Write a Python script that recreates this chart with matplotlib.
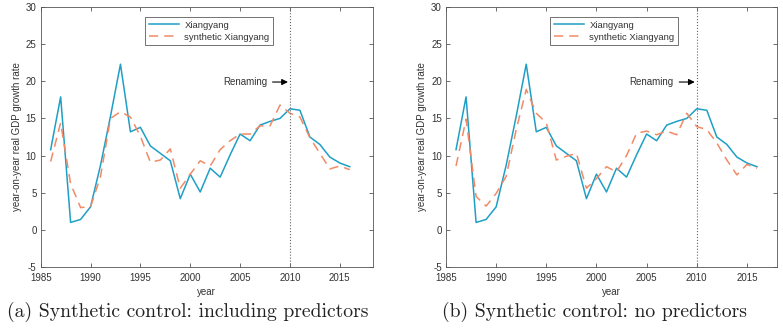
import numpy as np
import matplotlib
matplotlib.use("Agg")
import matplotlib.pyplot as plt

plt.rcParams['font.family'] = ['Liberation Sans', 'DejaVu Sans']
plt.rcParams['axes.unicode_minus'] = False

years = list(range(1986, 2017))

# actual Xiangyang growth rate (same in both panels)
xiangyang = [10.8, 17.9, 1.0, 1.4, 3.1, 8.7, 15.3, 22.3, 13.2, 13.8,
             11.3, 10.3, 9.3, 4.2, 7.5, 5.1, 8.3, 7.1, 10.1, 12.9,
             12.0, 14.1, 14.6, 15.0, 16.3, 16.1, 12.5, 11.5, 9.8, 9.0, 8.5]

# synthetic control, including predictors
synth_pred = [9.2, 14.4, 6.2, 3.0, 3.1, 7.2, 15.0, 15.9, 15.2, 12.6,
              9.1, 9.4, 10.9, 5.6, 7.5, 9.3, 8.6, 10.8, 12.0, 12.9,
              12.9, 14.0, 14.0, 16.8, 15.7, 15.2, 12.4, 10.3, 8.2, 8.6, 8.1]

# synthetic control, no predictors
synth_nopred = [8.6, 14.9, 4.5, 3.2, 4.9, 7.2, 13.5, 18.9, 15.7, 14.4,
                9.4, 9.9, 10.3, 5.6, 6.9, 8.5, 7.8, 10.0, 13.0, 13.3,
                12.8, 13.3, 12.8, 15.7, 13.9, 13.5, 11.7, 9.4, 7.4, 8.8, 8.3]

captions = ['(a) Synthetic control: including predictors',
            '(b) Synthetic control: no predictors']
xticks = [1985, 1990, 1995, 2000, 2005, 2010, 2015]
yticks = [-5, 0, 5, 10, 15, 20, 25, 30]

blue = '#1f9fc6'
orange = '#f28a66'
axcol = '#555555'

fig = plt.figure(figsize=(7.83, 3.28), dpi=100)

panels = [
    (synth_pred, [40.7 / 783, 61 / 328, 332 / 783, 260 / 328], 2018.3, 187.5 / 783),
    (synth_nopred, [446 / 783, 61 / 328, 331 / 783, 260 / 328], 2018.0, 594.5 / 783),
]

for (synth, rect, xmax, capx), cap in zip(panels, captions):
    ax = fig.add_axes(rect)
    ax.plot(years, xiangyang, color=blue, lw=1.1, label='Xiangyang')
    ax.plot(years, synth, color=orange, lw=1.1, ls=(0, (6, 4)),
            label='synthetic Xiangyang')
    ax.axvline(2010, color='#666666', lw=0.8, ls=':')
    ax.annotate('Renaming', xy=(2009.8, 19.9), xytext=(2007.7, 19.9),
                ha='right', va='center', fontsize=7, color='#333333',
                arrowprops=dict(arrowstyle='-|>', color='k', lw=0.8,
                                mutation_scale=9, shrinkA=2, shrinkB=0))
    ax.set_xlim(1985, xmax)
    ax.set_ylim(-5, 30)
    ax.set_xticks(xticks)
    ax.set_yticks(yticks)
    ax.tick_params(direction='in', length=3, width=0.6, labelsize=7,
                   colors=axcol, labelcolor='#333333',
                   top=True, right=True, pad=3)
    ax.tick_params(axis='x', pad=4)
    for s in ax.spines.values():
        s.set_color(axcol)
        s.set_linewidth(0.6)
    ax.set_xlabel('year', fontsize=7, color='#333333', labelpad=3)
    ax.set_ylabel('year-on-year real GDP growth rate', fontsize=7,
                  color='#333333', labelpad=3)
    leg = ax.legend(loc='upper left', bbox_to_anchor=(0.315, 0.96),
                    fontsize=6.8, frameon=True, fancybox=False,
                    handlelength=3.2, borderpad=0.35, labelspacing=0.3,
                    handletextpad=0.6, borderaxespad=0)
    leg.get_frame().set_edgecolor('#333333')
    leg.get_frame().set_linewidth(0.6)
    for t in leg.get_texts():
        t.set_color('#333333')
    fig.text(capx, (328 - 312) / 328, cap, ha='center', va='center',
             fontsize=14.2, family='cmr10', color='#222222')

fig.savefig('out.png', dpi=100)
